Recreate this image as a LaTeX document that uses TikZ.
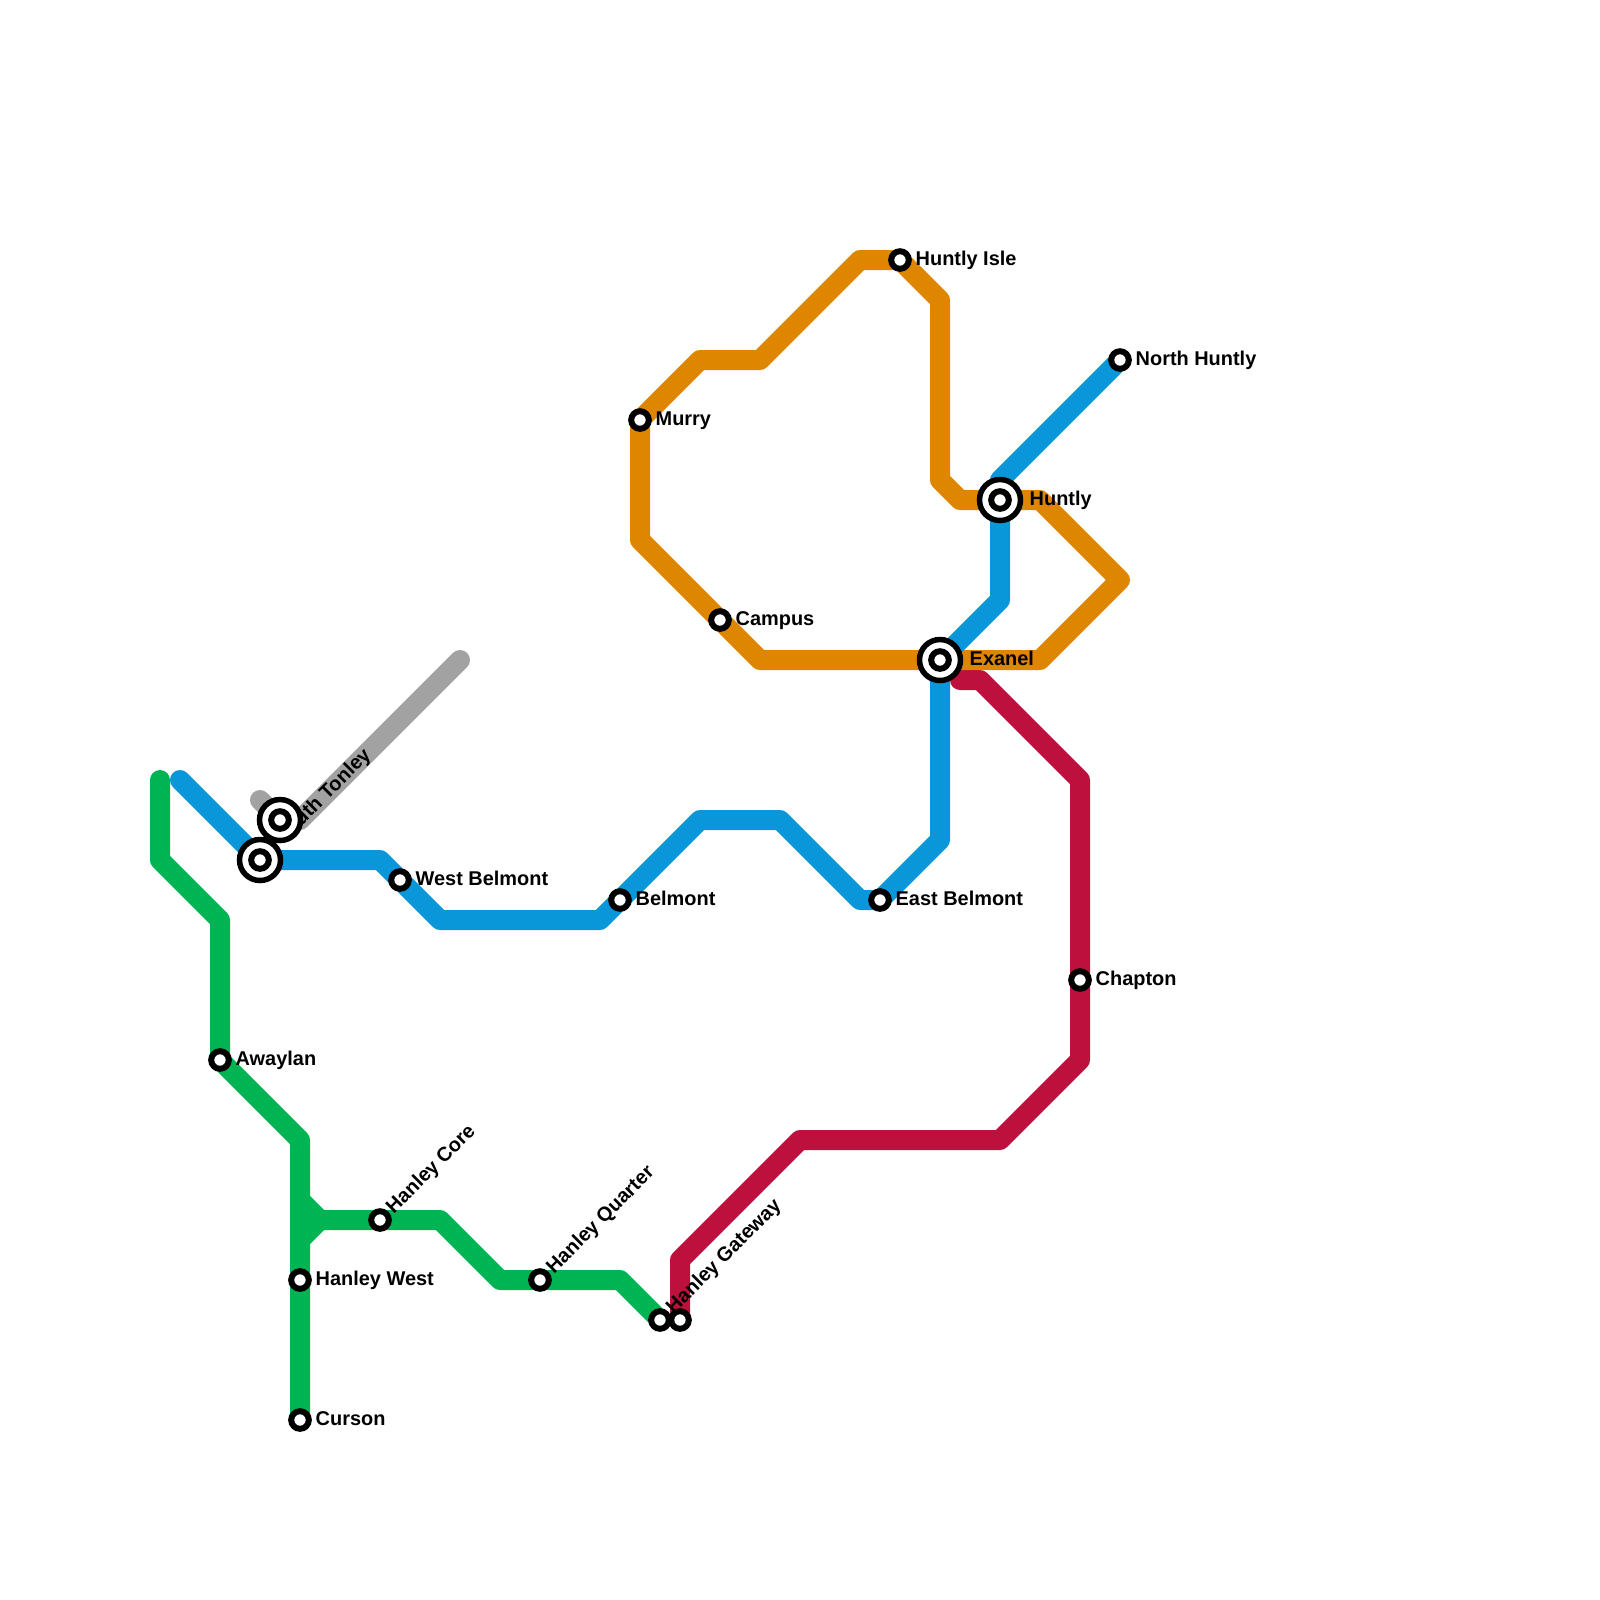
\documentclass[tikz,border=0pt]{standalone}
\usepackage{fontspec}
\setmainfont{Liberation Sans}
\usetikzlibrary{positioning,backgrounds}
\definecolor{GreenLine}{RGB}{0,179,83}
\definecolor{BlueLine}{RGB}{10,151,217}
\definecolor{OrangeLine}{RGB}{223,134,0}
\definecolor{RedLine}{RGB}{189,16,60}
\definecolor{GreyLine}{RGB}{162,162,162}
\tikzset{
  metroline/.style={line width=2mm, line join=round, line cap=round},
  station/.style={circle, draw=black, fill=white, line width=0.6mm, minimum size=1.76mm, inner sep=0pt},
  hub/.style={station, line width=0.55mm, minimum size=4.1mm, path picture={\draw[line width=0.6mm] (path picture bounding box.center) circle (0.88mm);}},
  stationtext/.style={anchor=base west, inner sep=0pt, font=\fontsize{5.67pt}{7pt}\selectfont\bfseries}
}

\begin{document}
\begin{tikzpicture}[x=0.2cm, y=-0.2cm]
  \useasboundingbox (0,0) rectangle (80,80);
  \node[station] (Awaylan) at (11,53) {};
  \node[station] (HanleyWest) at (15,64) {};
  \node[station] (Curson) at (15,71) {};
  \node[station] (HanleyCore) at (19,61) {};
  \node[station] (HanleyQuarter) at (27,64) {};
  \node[station] (HanleyGateway) at (33,66) {};
  \node[station] (GatewayRed) at (34,66) {};
  \node[station] (Chapton) at (54,49) {};
  \node[station] (WestBelmont) at (20,44) {};
  \node[station] (Belmont) at (31,45) {};
  \node[station] (EastBelmont) at (44,45) {};
  \node[station] (NorthHuntly) at (56,18) {};
  \node[station] (Murry) at (32,21) {};
  \node[station] (HuntlyIsle) at (45,13) {};
  \node[station] (Campus) at (36,31) {};
  \node[hub] (SouthTonley) at (13,43) {};
  \node[hub] (TonleyGrey) at (14,41) {};
  \node[hub] (Exanel) at (47,33) {};
  \node[hub] (Huntly) at (50,25) {};

  \begin{pgfonlayer}{background}
    \draw[metroline, GreyLine] (13,40) -- (TonleyGrey.center) -- (15,41) -- (23,33);
    \draw[metroline, GreenLine] (8,39) -- (8,43) -- (11,46) -- (Awaylan.center) -- (15,57) -- (HanleyWest.center) -- (Curson.center);
    \draw[metroline, GreenLine] (15,60) -- (16,61) -- (15,62);
    \draw[metroline, GreenLine] (16,61) -- (HanleyCore.center) -- (22,61) -- (25,64) -- (HanleyQuarter.center) -- (31,64) -- (HanleyGateway.center);
    \draw[metroline, RedLine] (GatewayRed.center) -- (34,63) -- (40,57) -- (50,57) -- (54,53) -- (Chapton.center) -- (54,39) -- (49,34) -- (48,34);
    \draw[metroline, OrangeLine] (Murry.center) -- (35,18) -- (38,18) -- (43,13) -- (HuntlyIsle.center) -- (47,15) -- (47,24) -- (48,25) -- (Huntly.center) -- (52,25) -- (56,29) -- (52,33) -- (Exanel.center) -- (38,33) -- (Campus.center) -- (32,27) -- cycle;
    \draw[metroline, BlueLine] (9,39) -- (SouthTonley.center) -- (19,43) -- (WestBelmont.center) -- (22,46) -- (30,46) -- (Belmont.center) -- (35,41) -- (39,41) -- (43,45) -- (EastBelmont.center) -- (47,42) -- (Exanel.center) -- (50,30) -- (Huntly.center) -- (50,24) -- (NorthHuntly.center);
    % labels
    \node[below right=0.5mm and 1.5mm of Awaylan.center, stationtext] (AwaylanText) {Awaylan};
    \node[below right=0.5mm and 1.5mm of HanleyWest.center, stationtext] (HanleyWestText) {Hanley West};
    \node[below right=0.5mm and 1.5mm of Curson.center, stationtext] (CursonText) {Curson};
    \node[below right=0.5mm and 1.5mm of Chapton.center, stationtext] (ChaptonText) {Chapton};
    \node[below right=0.5mm and 1.5mm of WestBelmont.center, stationtext] (WestBelmontText) {West Belmont};
    \node[below right=0.5mm and 1.5mm of Belmont.center, stationtext] (BelmontText) {Belmont};
    \node[below right=0.5mm and 1.5mm of EastBelmont.center, stationtext] (EastBelmontText) {East Belmont};
    \node[below right=0.5mm and 1.5mm of NorthHuntly.center, stationtext] (NorthHuntlyText) {North Huntly};
    \node[below right=0.5mm and 1.5mm of Murry.center, stationtext] (MurryText) {Murry};
    \node[below right=0.5mm and 1.5mm of HuntlyIsle.center, stationtext] (HuntlyIsleText) {Huntly Isle};
    \node[below right=0.5mm and 1.5mm of Campus.center, stationtext] (CampusText) {Campus};
    \node[below right=0.5mm and 2.9mm of Exanel.center, stationtext] (ExanelText) {Exanel};
    \node[below right=0.5mm and 2.9mm of Huntly.center, stationtext] (HuntlyText) {Huntly};
    \node[above right=0.5mm and 1.35mm of HanleyCore.center, stationtext, rotate=45] (HanleyCoreText) {Hanley Core};
    \node[above right=0.5mm and 1.35mm of HanleyQuarter.center, stationtext, rotate=45] (HanleyQuarterText) {Hanley Quarter};
    \node[above right=0.5mm and 1.35mm of HanleyGateway.center, stationtext, rotate=45] (HanleyGatewayText) {Hanley Gateway};
    \node[above right=1.5mm and 2.3mm of SouthTonley.center, stationtext, rotate=45] (SouthTonleyText) {South Tonley};
  \end{pgfonlayer}
\end{tikzpicture}
\end{document}
